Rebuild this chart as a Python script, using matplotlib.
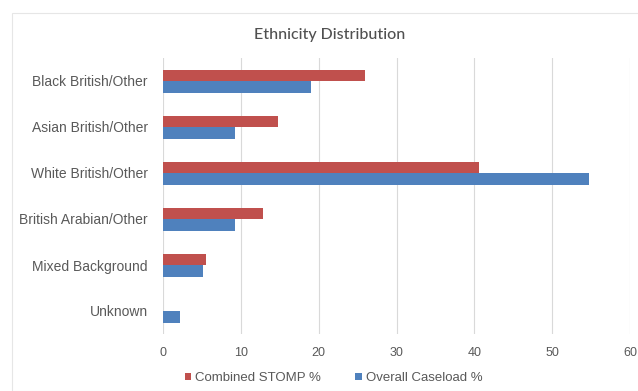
import matplotlib.pyplot as plt
import numpy as np
from matplotlib.patches import Rectangle

categories = ['Black British/Other', 'Asian British/Other', 'White British/Other',
              'British Arabian/Other', 'Mixed Background', 'Unknown']
stomp = [26.0, 14.8, 40.6, 12.9, 5.5, 0.0]
caseload = [19.0, 9.3, 54.7, 9.3, 5.1, 2.2]
series_names = ['Combined STOMP %', 'Overall Caseload %']
xticks = [0, 10, 20, 30, 40, 50, 60]

red = '#C0504D'
blue = '#4F81BD'
text_col = '#595959'

plt.rcParams['font.family'] = ['Liberation Sans', 'DejaVu Sans']

fig = plt.figure(figsize=(6.38, 3.91), dpi=100)
# light chart border
fig.patches.append(Rectangle((12 / 638, 0), 1, 1 - 13 / 391, transform=fig.transFigure,
                             fill=False, edgecolor='#e6e6e6', linewidth=0.8))

ax = fig.add_axes([163 / 638, 1 - 334 / 391, (630 - 163) / 638, (334 - 58) / 391])

y = np.arange(len(categories))
h = 0.25
ax.barh(y - h / 2, stomp, height=h, color=red, label=series_names[0], zorder=3)
ax.barh(y + h / 2, caseload, height=h, color=blue, label=series_names[1], zorder=3)

ax.set_ylim(len(categories) - 0.5, -0.5)
ax.set_xlim(0, 60)
ax.set_yticks(y)
ax.set_yticklabels(categories)
ax.set_xticks(xticks)
ax.tick_params(axis='both', length=0, labelcolor=text_col)
ax.tick_params(axis='x', pad=9, labelsize=9)
ax.tick_params(axis='y', pad=11, labelsize=10)
ax.grid(axis='x', color='#d9d9d9', linewidth=0.8, zorder=0)
for s in ax.spines.values():
    s.set_visible(False)

fig.text(0.517, 1 - 35 / 391, 'Ethnicity Distribution', ha='center', va='center',
         fontsize=11.5, color='#505050', weight='medium', family=['Lato', 'DejaVu Sans'])

fig.legend(loc='center', bbox_to_anchor=(0.523, 1 - 378 / 391), ncol=2, frameon=False,
           fontsize=9.5, labelcolor=text_col, handlelength=0.5, handleheight=0.5,
           handletextpad=0.3, columnspacing=2.6)

fig.savefig('out.png', dpi=100)
